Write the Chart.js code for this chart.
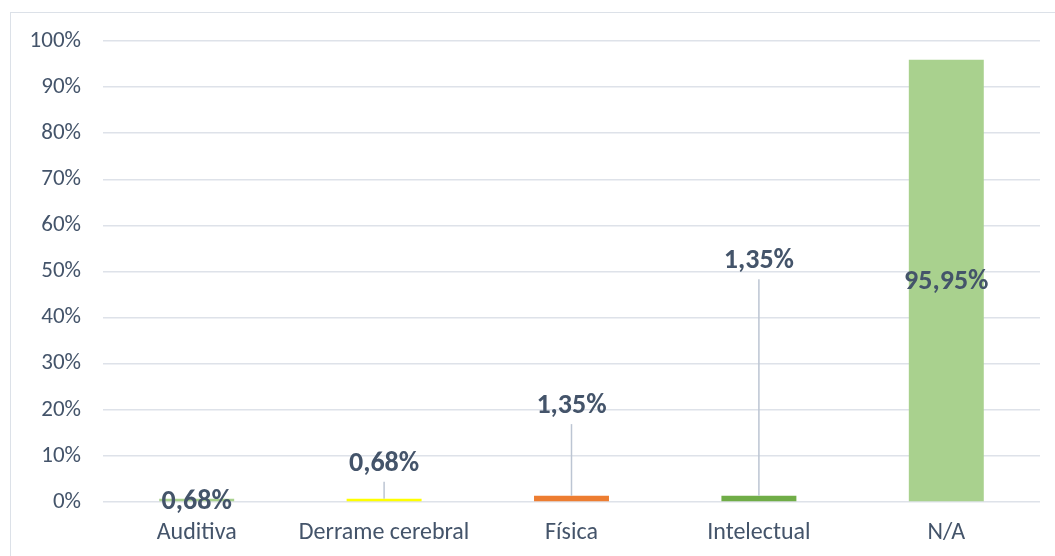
<!DOCTYPE html>
<html>
<head>
<meta charset="utf-8">
<script src="https://cdn.jsdelivr.net/npm/chart.js@4.4.0/dist/chart.umd.min.js"></script>
<style>
  html, body { margin: 0; padding: 0; background: #fff; overflow: hidden; }
  #frame {
    position: absolute; left: 10px; top: 12px;
    width: 1060px; height: 560px;
    border: 1px solid #DCE1E8;
    box-sizing: border-box;
  }
  #wrap { position: absolute; left: 0; top: 0; width: 1041px; height: 545px; }
</style>
</head>
<body>
<div id="frame"><div id="wrap"><canvas id="chart"></canvas></div></div>
<script>
const categories = ['Auditiva', 'Derrame cerebral', 'Física', 'Intelectual', 'N/A'];
const percentages = [0.68, 0.68, 1.35, 1.35, 95.95];
const barColors = ['#A9D18E', '#FFFF00', '#ED7D31', '#70AD47', '#A9D18E'];
// where each data label sits, in axis units (Excel moved them by hand)
const labelAt = [-0.1, 8.3, 20.8, 52.2, 47.8];
const yTicks = [0, 10, 20, 30, 40, 50, 60, 70, 80, 90, 100];

const textColor = '#44546A';
const fontFamily = 'Calibri, Lato, sans-serif';

function fmt(v) {
    return v.toFixed(2).replace('.', ',') + '%';
}

const calloutLabels = {
    id: 'calloutLabels',
    afterDatasetsDraw(chart) {
        const ctx = chart.ctx;
        const yScale = chart.scales.y;
        const meta = chart.getDatasetMeta(0);
        ctx.save();
        ctx.font = 'bold 28px ' + fontFamily;
        ctx.textAlign = 'center';
        ctx.textBaseline = 'middle';
        meta.data.forEach((bar, i) => {
            const ly = yScale.getPixelForValue(labelAt[i]);
            const lineTop = ly + 18;
            if (lineTop < bar.y - 2) {
                ctx.strokeStyle = '#BCC5D3';
                ctx.lineWidth = 1.5;
                ctx.beginPath();
                ctx.moveTo(bar.x, lineTop);
                ctx.lineTo(bar.x, bar.y);
                ctx.stroke();
            }
            ctx.fillStyle = textColor;
            ctx.fillText(fmt(percentages[i]), bar.x, ly);
        });
        ctx.restore();
    }
};

new Chart(document.getElementById('chart'), {
    type: 'bar',
    data: {
        labels: categories,
        datasets: [{
            data: percentages,
            backgroundColor: barColors,
            borderWidth: 0,
            barPercentage: 0.4,
            categoryPercentage: 1
        }]
    },
    options: {
        responsive: true,
        maintainAspectRatio: false,
        animation: false,
        layout: { padding: { top: 28, right: 12, bottom: 0, left: 0 } },
        plugins: {
            legend: { display: false },
            tooltip: { enabled: false }
        },
        scales: {
            x: {
                grid: { display: false, drawTicks: false },
                border: { display: false },
                ticks: {
                    color: textColor,
                    font: { family: fontFamily, size: 24 },
                    padding: 17,
                    maxRotation: 0
                },
                afterFit(scale) {
                    scale.height = 56;
                    scale.paddingLeft = 0;
                    scale.paddingRight = 0;
                }
            },
            y: {
                min: 0,
                max: 100,
                afterBuildTicks(scale) {
                    scale.ticks = yTicks.map(v => ({ value: v }));
                },
                grid: { color: '#DEE2E9', lineWidth: 1.5, drawTicks: false },
                border: { display: false },
                ticks: {
                    color: textColor,
                    font: { family: fontFamily, size: 23 },
                    padding: 22,
                    callback: v => v + '%'
                },
                afterFit(scale) {
                    scale.width = 92;
                    scale.paddingTop = 0;
                    scale.paddingBottom = 0;
                }
            }
        }
    },
    plugins: [calloutLabels]
});
</script>
</body>
</html>
